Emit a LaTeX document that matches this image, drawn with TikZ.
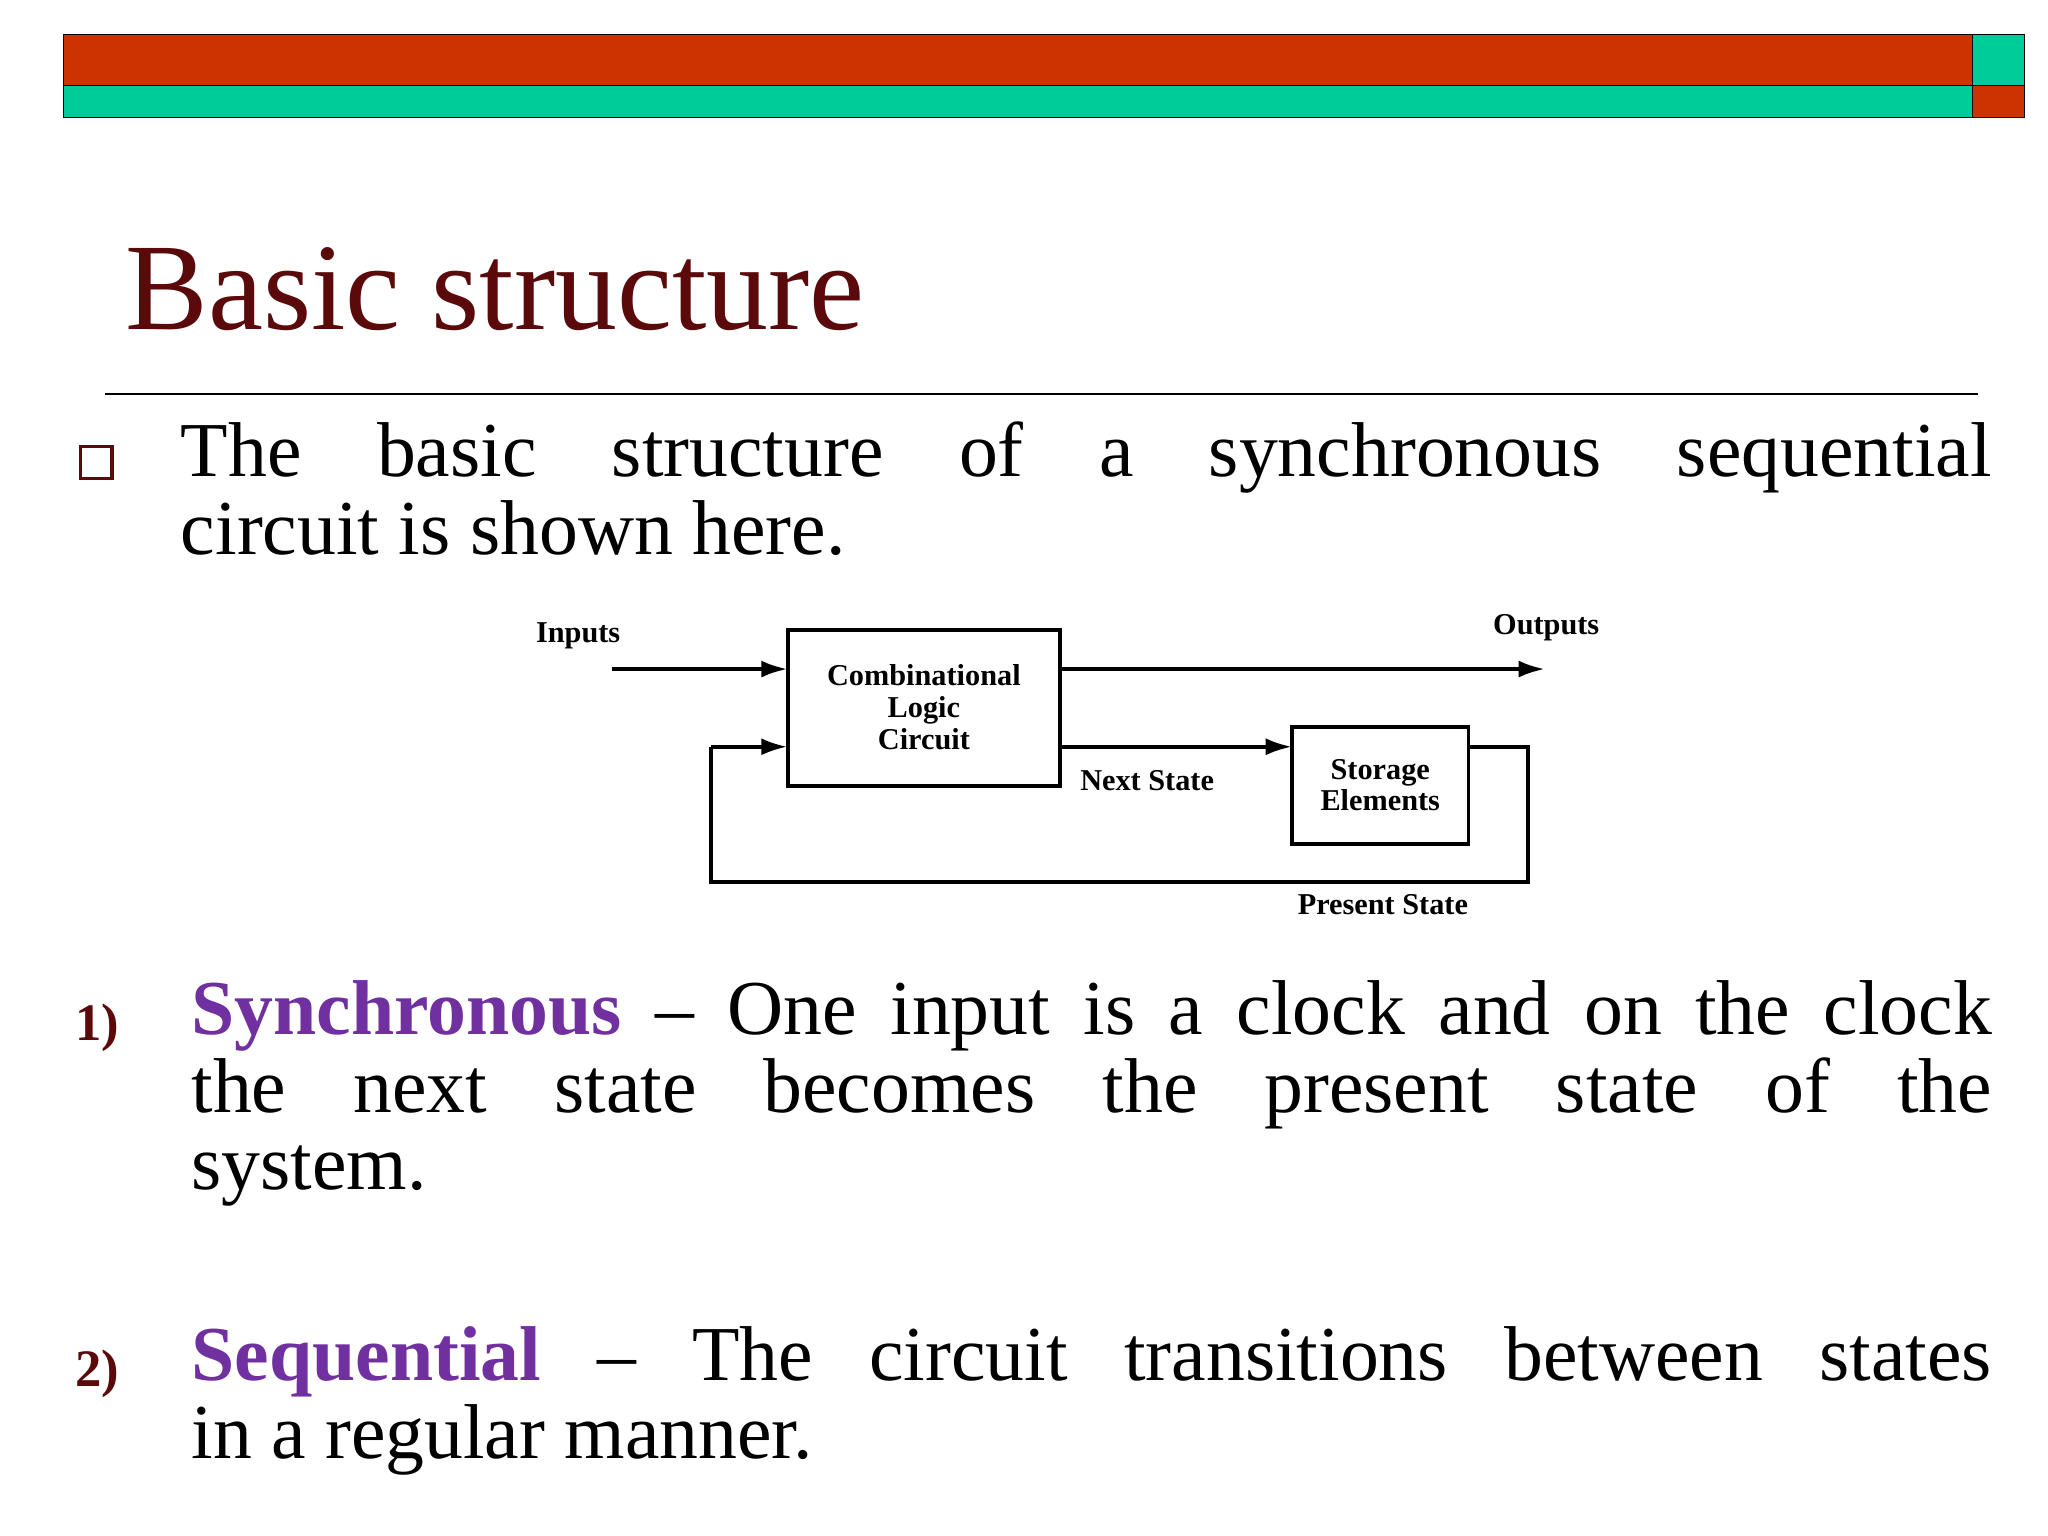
\documentclass[tikz,border=0pt]{standalone}
\usepackage{fontspec}
\setmainfont{Liberation Serif}
\usetikzlibrary{arrows.meta}
\definecolor{barred}{HTML}{CC3300}
\definecolor{barteal}{HTML}{00CC99}
\definecolor{dred}{HTML}{5A0A0A}
\definecolor{purp}{HTML}{7030A0}
\tikzset{
 blk/.style={draw,line width=1.5pt,inner sep=0pt},
 lbl/.style={font=\fontsize{11.5}{13}\selectfont\bfseries,align=center,inner sep=0pt},
 wire/.style={line width=1.5pt},
 arr/.style={wire,-{Latex[length=10pt,width=6.5pt]}},
 body/.style={anchor=north west,inner sep=0pt,text width=#1,align=justify,font=\fontsize{29.5}{29.5}\selectfont}
}
\begin{document}
\begin{tikzpicture}[x=0.5pt,y=-0.5pt]
\useasboundingbox[fill=white] (0,0) rectangle (1555,1166);
% bars
\draw[fill=barred] (48,26) rectangle (1498,65);
\draw[fill=barteal] (48,65) rectangle (1498,89);
\draw[fill=barteal] (1498,26) rectangle (1537,65);
\draw[fill=barred] (1498,65) rectangle (1537,89);
% title
\node[anchor=base west,inner sep=0pt,text=dred,font=\fontsize{47}{50}\selectfont] (title) at (95,250) {Basic structure};
\draw[line width=0.8pt] (80,299) -- (1502,299);
% bullet
\node[draw=dred,line width=1.2pt,minimum size=12pt,inner sep=0pt] (bul) at (73,351) {};
\node[body=687.5pt] (p1) at (137,320) {The basic structure of a synchronous sequential\linebreak circuit is shown here.};
% diagram
\node[blk,minimum width=103.5pt,minimum height=59.5pt] (clc) at (701.5,537.5) {};
\node[lbl] at (701.5,537) {Combinational\\[-1pt]Logic\\[-1pt]Circuit};
\node[blk,minimum width=67pt,minimum height=44.5pt] (se) at (1048,596.5) {};
\node[lbl] at (1048,596) {Storage\\[-1pt]Elements};
\coordinate (inS) at (465,508);
\coordinate (inE) at (598,508);
\coordinate (outS) at (805,508);
\coordinate (outE) at (1173,508);
\coordinate (nsS) at (805,567);
\coordinate (nsE) at (981,567);
\coordinate (fb1) at (1115,567);
\coordinate (fb2) at (1160,567);
\coordinate (fb3) at (1160,670);
\coordinate (fb4) at (540,670);
\coordinate (fb5) at (540,567);
\coordinate (fb6) at (598,567);
\draw[arr] (inS) -- (inE);
\draw[arr] (outS) -- (outE);
\draw[arr] (nsS) -- (nsE);
\draw[wire] (fb1) -- (fb2) -- (fb3) -- (fb4) -- (fb5);
\draw[arr] (fb5) -- (fb6);
\node[lbl,anchor=base] (tin) at (439,488) {Inputs};
\node[lbl,anchor=base] (tout) at (1174,482) {Outputs};
\node[lbl,anchor=base] (tns) at (871,600) {Next State};
\node[lbl,anchor=base] (tps) at (1050,694) {Present State};
% items
\node[anchor=base west,inner sep=0pt,text=dred,font=\fontsize{20}{24}\selectfont\bfseries] (n1) at (57,790) {1)};
\node[body=683.5pt] (p2) at (145,744) {\textcolor{purp}{\bfseries Synchronous} -- One input is a clock and on the clock\linebreak the next state becomes the present state of the\linebreak system.};
\node[anchor=base west,inner sep=0pt,text=dred,font=\fontsize{20}{24}\selectfont\bfseries] (n2) at (57,1053) {2)};
\node[body=683.5pt] (p3) at (145,1007) {\textcolor{purp}{\bfseries Sequential} -- The circuit transitions between states\linebreak in a regular manner.};
\end{tikzpicture}
\end{document}
